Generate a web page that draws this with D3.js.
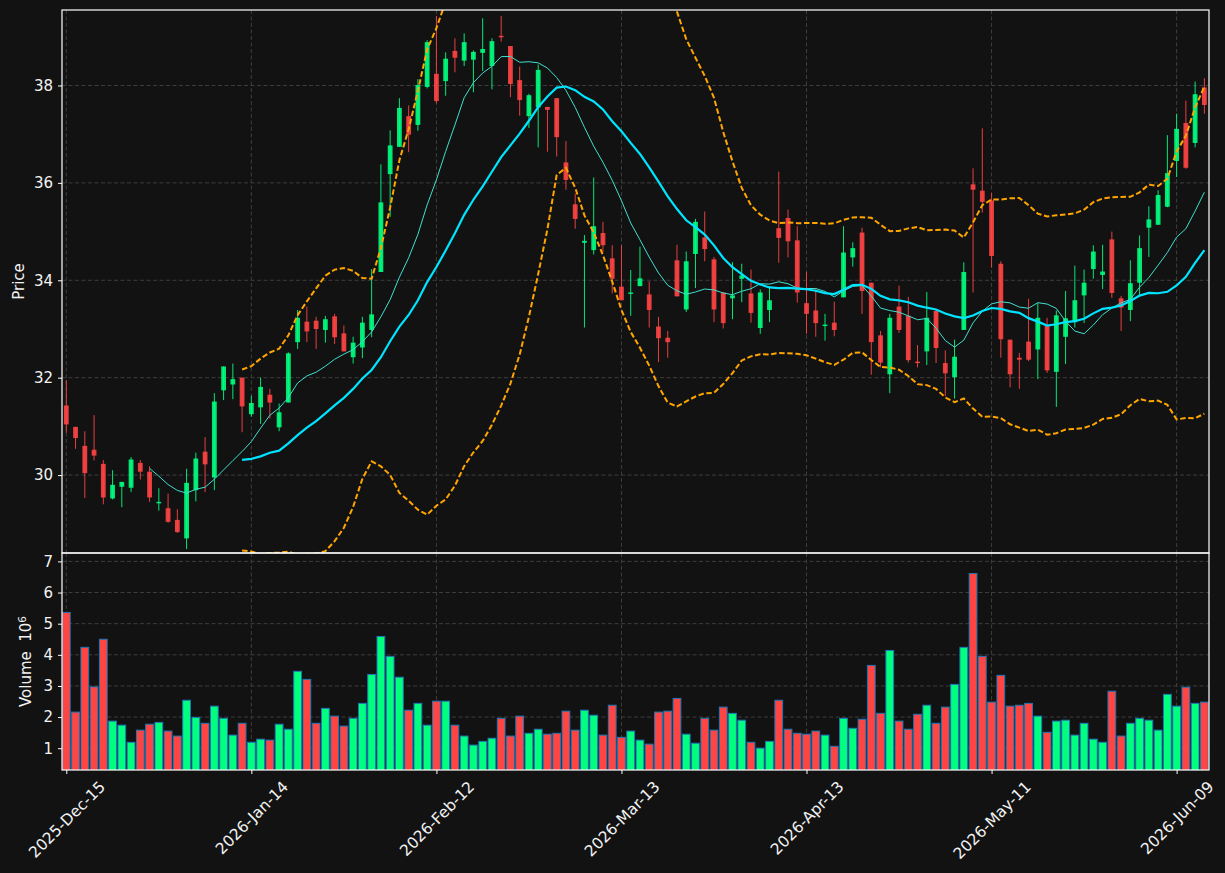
<!DOCTYPE html>
<html>
<head>
<meta charset="utf-8">
<script src="https://cdn.jsdelivr.net/npm/d3@7"></script>
<style>
  html, body { margin: 0; padding: 0; background: #121212; }
  svg { display: block; font-family: "DejaVu Sans", sans-serif; }
</style>
</head>
<body>
<svg id="chart" width="1225" height="873"></svg>
<script>

// tick positions are candle indexes (every 20 trading days)
var TICK_IDX = [0, 20, 40, 60, 80, 100, 120];
var TICK_LABELS = ["2025-Dec-15", "2026-Jan-14", "2026-Feb-12", "2026-Mar-13",
                   "2026-Apr-13", "2026-May-11", "2026-Jun-09"];
var PRICE_TICKS = [30, 32, 34, 36, 38];
var VOLUME_TICKS = [1, 2, 3, 4, 5, 6, 7];

var OPENS = [31.43,30.99,30.60,30.52,30.23,29.52,29.76,29.74,30.25,30.07,
             29.42,29.32,29.08,28.70,29.69,30.48,29.95,31.74,31.86,32.00,
             31.25,31.39,31.65,30.98,31.49,32.73,33.15,33.17,32.98,33.26,
             32.91,32.42,32.62,32.98,34.17,36.18,36.74,37.37,37.19,37.97,
             38.24,38.09,38.71,38.51,38.53,38.67,38.40,39.02,38.81,38.11,
             37.37,37.55,37.56,37.74,36.42,35.56,34.77,34.62,34.97,34.45,
             33.87,33.72,33.88,33.71,33.05,32.82,34.41,33.40,34.54,34.88,
             34.43,33.75,33.63,34.03,33.73,33.02,33.39,35.07,35.28,34.82,
             33.53,33.38,33.06,33.13,33.65,34.47,34.98,33.95,32.87,32.07,
             33.46,33.27,32.33,32.54,33.37,32.30,32.01,32.98,35.97,35.84,
             35.64,34.34,32.78,32.41,32.74,32.58,33.06,32.12,32.84,33.14,
             33.69,34.23,34.11,34.84,33.63,33.39,33.95,35.08,35.14,35.51,
             36.45,37.23,36.82,37.96];
var HIGHS = [31.95,30.99,30.90,31.23,30.31,30.10,29.86,30.37,30.31,30.18,
             29.73,29.62,29.30,30.13,30.46,30.78,31.68,32.23,32.29,32.00,
             31.63,32.00,31.77,31.47,32.52,33.39,33.46,33.25,33.27,33.31,
             33.07,32.84,33.25,34.23,36.38,37.08,37.74,37.59,38.13,38.93,
             39.43,38.68,38.97,39.07,38.72,39.38,38.97,39.43,38.81,38.39,
             37.83,38.43,37.56,37.74,36.86,35.78,34.93,36.11,35.20,34.72,
             34.72,34.21,34.69,33.98,33.25,32.96,34.73,34.59,35.26,35.41,
             34.48,33.75,34.37,34.34,34.22,33.81,33.88,36.23,35.45,35.11,
             34.17,33.84,33.31,33.56,35.11,34.78,35.08,33.95,32.96,33.31,
             33.89,33.66,32.67,33.76,33.40,32.56,32.78,34.37,36.30,37.12,
             35.79,34.39,32.78,32.51,33.62,33.53,33.23,33.38,33.78,34.30,
             34.22,34.72,34.73,35.00,33.68,34.41,34.92,35.52,35.85,36.98,
             37.42,37.69,38.08,38.15];
var LOWS = [30.87,30.54,29.53,30.30,29.40,29.50,29.34,29.65,29.91,29.45,
            29.27,29.02,28.81,28.48,29.46,29.65,29.69,31.54,31.56,30.88,
            31.20,31.05,31.16,30.90,31.49,32.59,32.73,32.59,32.72,32.69,
            32.54,32.29,32.40,32.83,34.17,35.30,36.74,36.63,37.07,37.94,
            37.63,37.79,38.27,38.40,37.86,38.30,37.92,38.90,37.76,37.38,
            37.13,36.73,36.64,36.54,35.86,35.06,33.03,34.53,34.58,33.73,
            33.59,33.27,33.88,33.03,32.32,32.41,33.67,33.35,33.84,34.39,
            33.14,33.01,33.20,33.55,33.13,32.90,33.14,34.36,34.47,33.54,
            32.90,32.84,32.76,32.85,33.65,34.28,33.31,32.06,32.21,31.68,
            32.92,32.31,32.21,32.26,32.30,31.62,31.57,32.98,33.75,35.39,
            34.26,32.41,31.80,31.77,32.34,31.97,32.10,31.40,32.28,33.03,
            33.12,34.03,33.82,33.64,32.96,33.16,33.70,34.48,35.14,35.50,
            36.12,36.29,36.73,37.42];
var CLOSES = [31.04,30.76,30.04,30.40,29.54,29.80,29.86,30.32,30.07,29.54,
              29.45,29.04,28.83,29.84,30.34,30.22,31.51,32.23,31.97,31.41,
              31.48,31.81,31.49,31.29,32.50,33.23,32.95,33.00,33.20,32.83,
              32.54,32.72,33.13,33.30,35.60,36.77,37.54,36.99,38.01,38.89,
              37.68,38.55,38.57,38.89,38.69,38.75,38.91,38.99,38.03,37.70,
              37.80,38.32,37.50,36.94,36.06,35.26,34.81,35.11,34.72,34.03,
              33.59,33.75,34.04,33.39,32.81,32.73,33.67,34.39,35.20,34.64,
              33.40,33.12,33.69,34.10,33.33,33.75,33.59,34.87,34.80,33.75,
              33.31,33.12,33.09,32.98,34.57,34.66,33.78,32.73,32.31,33.23,
              32.98,32.36,32.30,33.23,32.61,32.09,32.43,34.17,35.86,35.61,
              34.50,32.79,32.07,32.37,32.37,33.23,32.15,33.28,33.22,33.59,
              33.95,34.59,34.18,33.74,33.44,33.94,34.66,35.25,35.75,36.20,
              37.11,36.31,37.82,37.60];
// volume in millions
var VOLUMES = [5.36,2.16,4.24,2.97,4.50,1.87,1.74,1.19,1.58,1.77,
               1.83,1.55,1.39,2.54,1.99,1.80,2.35,1.96,1.42,1.80,
               1.19,1.29,1.26,1.77,1.61,3.47,3.21,1.80,2.28,2.03,
               1.71,1.96,2.44,3.37,4.59,3.95,3.28,2.22,2.44,1.74,
               2.51,2.51,1.74,1.39,1.10,1.22,1.32,1.96,1.39,2.03,
               1.48,1.61,1.45,1.48,2.19,1.58,2.22,2.06,1.42,2.38,
               1.35,1.55,1.26,1.13,2.16,2.19,2.60,1.45,1.16,1.96,
               1.58,2.32,2.12,1.90,1.19,1.00,1.22,2.54,1.61,1.48,
               1.45,1.55,1.42,1.06,1.96,1.64,1.93,3.66,2.12,4.14,
               1.87,1.61,2.09,2.38,1.80,2.32,3.05,4.24,6.61,3.95,
               2.48,3.34,2.35,2.38,2.44,2.03,1.51,1.87,1.90,1.42,
               1.80,1.29,1.19,2.83,1.39,1.80,1.96,1.90,1.58,2.73,
               2.35,2.96,2.44,2.48];

var WIDTH = 1225;
var HEIGHT = 873;
var LEFT = 62, RIGHT = 1209;
var P_TOP = 10, P_BOTTOM = 553;
var V_TOP = 553, V_BOTTOM = 770;

var UP = "#00ff7f";
var DOWN = "#ff4444";
var TEXT_COLOR = "#f2f2f2";
var GRID_COLOR = "#3e3e3e";

var svg = d3.select("#chart");

svg.append("rect")
   .attr("width", WIDTH)
   .attr("height", HEIGHT)
   .attr("fill", "#121212");

var x = d3.scaleLinear().domain([-0.465, 123.5]).range([LEFT, RIGHT]);
var yPrice = d3.scaleLinear().domain([28.40, 39.55]).range([P_BOTTOM, P_TOP]);
var yVol = d3.scaleLinear().domain([0.30, 7.27]).range([V_BOTTOM, V_TOP]);

var defs = svg.append("defs");
defs.append("clipPath").attr("id", "clipPrice")
    .append("rect")
    .attr("x", LEFT).attr("y", P_TOP)
    .attr("width", RIGHT - LEFT).attr("height", P_BOTTOM - P_TOP);
defs.append("clipPath").attr("id", "clipVol")
    .append("rect")
    .attr("x", LEFT).attr("y", V_TOP)
    .attr("width", RIGHT - LEFT).attr("height", V_BOTTOM - V_TOP);


function rollingMean(values, w)
{
  var out = [];
  for (var i = 0; i < values.length; i++)
  {
    if (i < w - 1) { out.push(null); continue; }
    out.push(d3.mean(values.slice(i - w + 1, i + 1)));
  }
  return out;
}

function rollingStd(values, w)
{
  var out = [];
  for (var i = 0; i < values.length; i++)
  {
    if (i < w - 1) { out.push(null); continue; }
    out.push(d3.deviation(values.slice(i - w + 1, i + 1)));
  }
  return out;
}


function drawGrid()
{
  var g = svg.append("g").attr("class", "grid");

  TICK_IDX.forEach(function(t) {
    [[P_TOP, P_BOTTOM], [V_TOP, V_BOTTOM]].forEach(function(r) {
      g.append("line")
       .attr("x1", x(t)).attr("x2", x(t))
       .attr("y1", r[0]).attr("y2", r[1])
       .attr("stroke", GRID_COLOR)
       .attr("stroke-width", 1)
       .attr("stroke-dasharray", "4,2.5");
    });
  });

  PRICE_TICKS.forEach(function(v) {
    g.append("line")
     .attr("x1", LEFT).attr("x2", RIGHT)
     .attr("y1", yPrice(v)).attr("y2", yPrice(v))
     .attr("stroke", GRID_COLOR)
     .attr("stroke-width", 1)
     .attr("stroke-dasharray", "4,2.5");
  });

  VOLUME_TICKS.forEach(function(v) {
    g.append("line")
     .attr("x1", LEFT).attr("x2", RIGHT)
     .attr("y1", yVol(v)).attr("y2", yVol(v))
     .attr("stroke", GRID_COLOR)
     .attr("stroke-width", 1)
     .attr("stroke-dasharray", "4,2.5");
  });
}


function drawCandles()
{
  var g = svg.append("g").attr("clip-path", "url(#clipPrice)");
  var bodyW = x(0.52) - x(0);

  for (var i = 0; i < CLOSES.length; i++)
  {
    var up = CLOSES[i] >= OPENS[i];
    var color = up ? UP : DOWN;
    var cx = x(i);

    g.append("line")
     .attr("x1", cx).attr("x2", cx)
     .attr("y1", yPrice(HIGHS[i])).attr("y2", yPrice(LOWS[i]))
     .attr("stroke", color)
     .attr("stroke-opacity", 0.9)
     .attr("stroke-width", 1);

    var top = yPrice(Math.max(OPENS[i], CLOSES[i]));
    var bot = yPrice(Math.min(OPENS[i], CLOSES[i]));
    g.append("rect")
     .attr("x", cx - bodyW / 2)
     .attr("y", top)
     .attr("width", bodyW)
     .attr("height", Math.max(bot - top, 1))
     .attr("fill", color)
     .attr("fill-opacity", 0.9);
  }
}


function drawOverlays()
{
  var g = svg.append("g").attr("clip-path", "url(#clipPrice)");
  var ma10 = rollingMean(CLOSES, 10);
  var ma20 = rollingMean(CLOSES, 20);
  var sd20 = rollingStd(CLOSES, 20);
  var upper = ma20.map(function(m, i) { return m === null ? null : m + 2 * sd20[i]; });
  var lower = ma20.map(function(m, i) { return m === null ? null : m - 2 * sd20[i]; });

  var line = d3.line()
               .defined(function(d) { return d !== null; })
               .x(function(d, i) { return x(i); })
               .y(function(d) { return yPrice(d); });

  g.append("path").datum(ma10)
   .attr("d", line)
   .attr("fill", "none")
   .attr("stroke", "#40e0d0")
   .attr("stroke-width", 1);

  g.append("path").datum(ma20)
   .attr("d", line)
   .attr("fill", "none")
   .attr("stroke", "#00e5ff")
   .attr("stroke-width", 2.2);

  [upper, lower].forEach(function(band) {
    g.append("path").datum(band)
     .attr("d", line)
     .attr("fill", "none")
     .attr("stroke", "#ffa500")
     .attr("stroke-width", 2)
     .attr("stroke-dasharray", "5.5,2.6");
  });
}


function drawVolume()
{
  var g = svg.append("g").attr("clip-path", "url(#clipVol)");
  var barW = (x(1) - x(0)) * 0.84;

  for (var i = 0; i < VOLUMES.length; i++)
  {
    var up = CLOSES[i] >= OPENS[i];
    g.append("rect")
     .attr("x", x(i) - barW / 2)
     .attr("y", yVol(VOLUMES[i]))
     .attr("width", barW)
     .attr("height", V_BOTTOM + 2 - yVol(VOLUMES[i]))
     .attr("fill", up ? UP : DOWN)
     .attr("stroke", "#1f77b4")
     .attr("stroke-width", 1);
  }
}


function styleAxis(g)
{
  g.select(".domain").remove();
  g.selectAll(".tick line").attr("stroke", "#ffffff").attr("stroke-width", 1);
  g.selectAll(".tick text")
   .attr("fill", TEXT_COLOR)
   .attr("font-family", "DejaVu Sans, sans-serif")
   .attr("font-size", "15px");
}


function drawAxes()
{
  var gp = svg.append("g")
              .attr("transform", "translate(" + LEFT + ",0)")
              .call(d3.axisLeft(yPrice).tickValues(PRICE_TICKS).tickSize(4).tickPadding(5));
  styleAxis(gp);

  var gv = svg.append("g")
              .attr("transform", "translate(" + LEFT + ",0)")
              .call(d3.axisLeft(yVol)
                      .tickValues(VOLUME_TICKS)
                      .tickFormat(d3.format("d"))
                      .tickSize(4).tickPadding(5));
  styleAxis(gv);

  var gx = svg.append("g")
              .attr("transform", "translate(0," + V_BOTTOM + ")")
              .call(d3.axisBottom(x)
                      .tickValues(TICK_IDX)
                      .tickFormat(function(d, i) { return TICK_LABELS[i]; })
                      .tickSize(4));
  styleAxis(gx);
  gx.selectAll(".tick text")
    .attr("font-size", "15.5px")
    .each(function() {
      var L = this.getComputedTextLength();
      var h = 15.5 * 1.1;
      var cy = 8 + (L + h) * 0.7071 / 2;
      d3.select(this)
        .attr("x", 0).attr("y", 0).attr("dy", "0.35em")
        .attr("text-anchor", "middle")
        .attr("transform", "translate(0," + cy + ") rotate(-45)");
    });

  // spines
  [[P_TOP, P_BOTTOM], [V_TOP, V_BOTTOM]].forEach(function(r) {
    svg.append("rect")
       .attr("x", LEFT).attr("y", r[0])
       .attr("width", RIGHT - LEFT).attr("height", r[1] - r[0])
       .attr("fill", "none")
       .attr("stroke", "#ffffff")
       .attr("stroke-width", 1.2);
  });

  svg.append("text")
     .text("Price")
     .attr("transform", "translate(24," + ((P_TOP + P_BOTTOM) / 2) + ") rotate(-90)")
     .attr("text-anchor", "middle")
     .attr("font-size", "15px")
     .attr("fill", TEXT_COLOR);

  var vl = svg.append("text")
              .attr("transform", "translate(31," + ((V_TOP + V_BOTTOM) / 2) + ") rotate(-90)")
              .attr("text-anchor", "middle")
              .attr("font-size", "15px")
              .attr("fill", TEXT_COLOR)
              .attr("xml:space", "preserve");
  vl.append("tspan").text("Volume  10");
  vl.append("tspan").text("6").attr("dy", "-0.45em").attr("font-size", "10.5px");
}


drawGrid();
drawCandles();
drawOverlays();
drawVolume();
drawAxes();

</script>
</body>
</html>
